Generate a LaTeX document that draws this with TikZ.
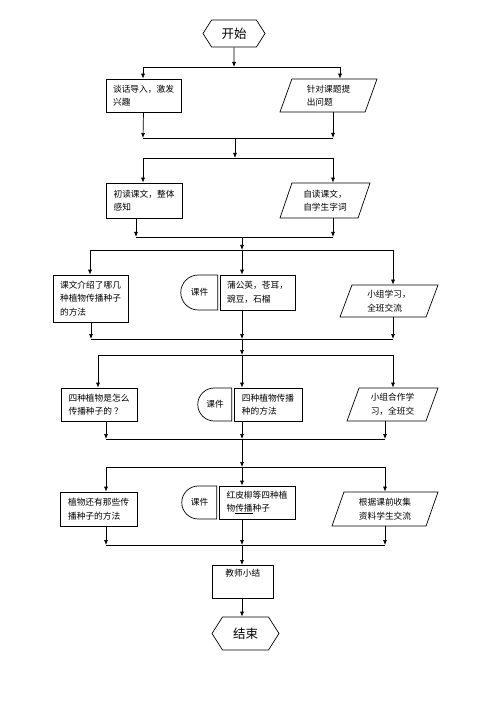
\documentclass[tikz,border=0pt]{standalone}
\usepackage{fontspec}
\setmainfont{Noto Sans CJK SC}
\usepackage{tikz}
\usetikzlibrary{positioning,arrows.meta,shapes.geometric,shapes.misc,shapes.symbols}

\begin{document}
\begin{tikzpicture}[x=1pt,y=-1pt,
 box/.style={draw,align=left,inner sep=2pt,font=\fontsize{8.7}{13.5}\selectfont},
 para/.style={box,trapezium,trapezium left angle=65,trapezium right angle=115,trapezium stretches body},
 ware/.style={box,rounded rectangle,rounded rectangle right arc=none,minimum width=40,minimum height=34},
 term/.style={draw,signal,signal to=west and east,signal pointer angle=115,font=\fontsize{12.5}{14}\selectfont},
 arr/.style={-{Latex[length=5pt,width=4pt]}},line width=0.7pt]
\useasboundingbox (0,0) rectangle (500,708);
% nodes
\node[term,minimum width=62,minimum height=27] (start) at (234,33.5) {开始};
\node[box,minimum width=75,minimum height=33] (talk) at (143.5,95.5) {谈话导入，激发\\兴趣};
\node[para,minimum width=97,minimum height=33] (ask) at (328.5,95.5) {针对课题提\\出问题};
\node[box,minimum width=76,minimum height=35] (read) at (144,200.5) {初读课文，整体\\感知};
\node[para,minimum width=90,minimum height=35] (selfread) at (325,200.5) {自读课文，\\自学生字词};
\node[box,minimum width=75,minimum height=47] (intro) at (90.5,298.5) {课文介绍了哪几\\种植物传播种子\\的方法};
\node[ware,minimum width=41,minimum height=35] (wareA) at (199.5,292.5) {课件};
\node[box,minimum width=75,minimum height=35] (plantA) at (257.5,292.5) {蒲公英，苍耳，\\豌豆，石榴};
\node[para,minimum width=98,minimum height=32] (groupA) at (389,301) {小组学习，\\全班交流};
\node[box,minimum width=76,minimum height=33] (how) at (99,404.5) {四种植物是怎么\\传播种子的 ？};
\node[ware,minimum width=38,minimum height=33] (wareB) at (215,404.5) {课件};
\node[box,minimum width=68,minimum height=33] (plantB) at (268,404.5) {四种植物传播\\种的方法};
\node[para,minimum width=91,minimum height=33] (groupB) at (392.5,404.5) {小组合作学\\习，全班交};
\node[box,minimum width=77,minimum height=34] (other) at (98.5,509) {植物还有那些传\\播种子的方法};
\node[ware,minimum width=39,minimum height=33] (wareC) at (199.5,502.5) {课件};
\node[box,minimum width=76,minimum height=33] (plantC) at (257,502.5) {红皮柳等四种植\\物\underline{传播}种子};
\node[para,minimum width=106,minimum height=34] (share) at (385,509) {根据课前收集\\资料学生交流};
\node[box,minimum width=61,minimum height=33,anchor=north west,text height=7,text depth=18] (summary) at (212,565) {教师小结};
\node[term,minimum width=67,minimum height=33] (end) at (245.5,633.5) {结束};
% bus lines
\coordinate (b1l) at (143,67); \coordinate (b1r) at (340,67);
\coordinate (b2l) at (143,138); \coordinate (b2r) at (333,138); \coordinate (b2m) at (235,138);
\coordinate (b3l) at (143,158); \coordinate (b3r) at (333,158);
\coordinate (b4l) at (136,237); \coordinate (b4r) at (333,237); \coordinate (b4m) at (242,237);
\coordinate (b5l) at (90,250); \coordinate (b5r) at (393,250); \coordinate (b5m) at (242,250);
\coordinate (b6l) at (91,339); \coordinate (b6r) at (393,339); \coordinate (b6m) at (242,339);
\coordinate (b7l) at (98,355); \coordinate (b7r) at (393,355); \coordinate (b7m) at (242,355);
\coordinate (b8l) at (106,439); \coordinate (b8r) at (385,439); \coordinate (b8m) at (242,439);
\coordinate (b9l) at (106,467); \coordinate (b9r) at (385,467); \coordinate (b9m) at (242,467);
\coordinate (b10l) at (106,545); \coordinate (b10r) at (385,545); \coordinate (b10m) at (242,545);
\foreach \b in {b1,b2,b3,b4,b5,b6,b7,b8,b9,b10} \draw (\b l) -- (\b r);
% connectors
\draw[arr] (start) -- (start.south |- b1l);
\draw[arr] (b1l) -- (b1l |- talk.north); \draw[arr] (b1r) -- (b1r |- ask.north);
\draw[arr] (talk.south) -- (b2l); \draw[arr] (b2r |- ask.south) -- (b2r);
\draw[arr] (b2m) -- (b2m |- b3l);
\draw[arr] (b3l) -- (b3l |- read.north); \draw[arr] (b3r) -- (b3r |- selfread.north);
\draw[arr] (b4l |- read.south) -- (b4l); \draw[arr] (b4r |- selfread.south) -- (b4r);
\draw[arr] (b4m) -- (b5m);
\draw[arr] (b5l) -- (b5l |- intro.north); \draw[arr] (b5m) -- (b5m |- plantA.north);
\draw[arr] (b5r) -- (b5r |- groupA.north);
\draw[arr] (b6l |- intro.south) -- (b6l); \draw[arr] (b6m |- plantA.south) -- (b6m);
\draw[arr] (b6r |- groupA.south) -- (b6r);
\draw[arr] (b6m) -- (b7m);
\draw[arr] (b7l) -- (b7l |- how.north); \draw[arr] (b7m) -- (b7m |- plantB.north);
\draw[arr] (b7r) -- (b7r |- groupB.north);
\draw[arr] (b8l |- how.south) -- (b8l); \draw[arr] (b8m |- plantB.south) -- (b8m);
\draw[arr] (b8r |- groupB.south) -- (b8r);
\draw[arr] (b8m) -- (b9m);
\draw[arr] (b9l) -- (b9l |- other.north); \draw[arr] (b9m) -- (b9m |- plantC.north);
\draw[arr] (b9r) -- (b9r |- share.north);
\draw[arr] (b10l |- other.south) -- (b10l); \draw[arr] (b10m |- plantC.south) -- (b10m);
\draw[arr] (b10r |- share.south) -- (b10r);
\draw[arr] (b10m) -- (b10m |- summary.north);
\draw[arr] (b10m |- summary.south) -- (b10m |- end.north);
\end{tikzpicture}
\end{document}
